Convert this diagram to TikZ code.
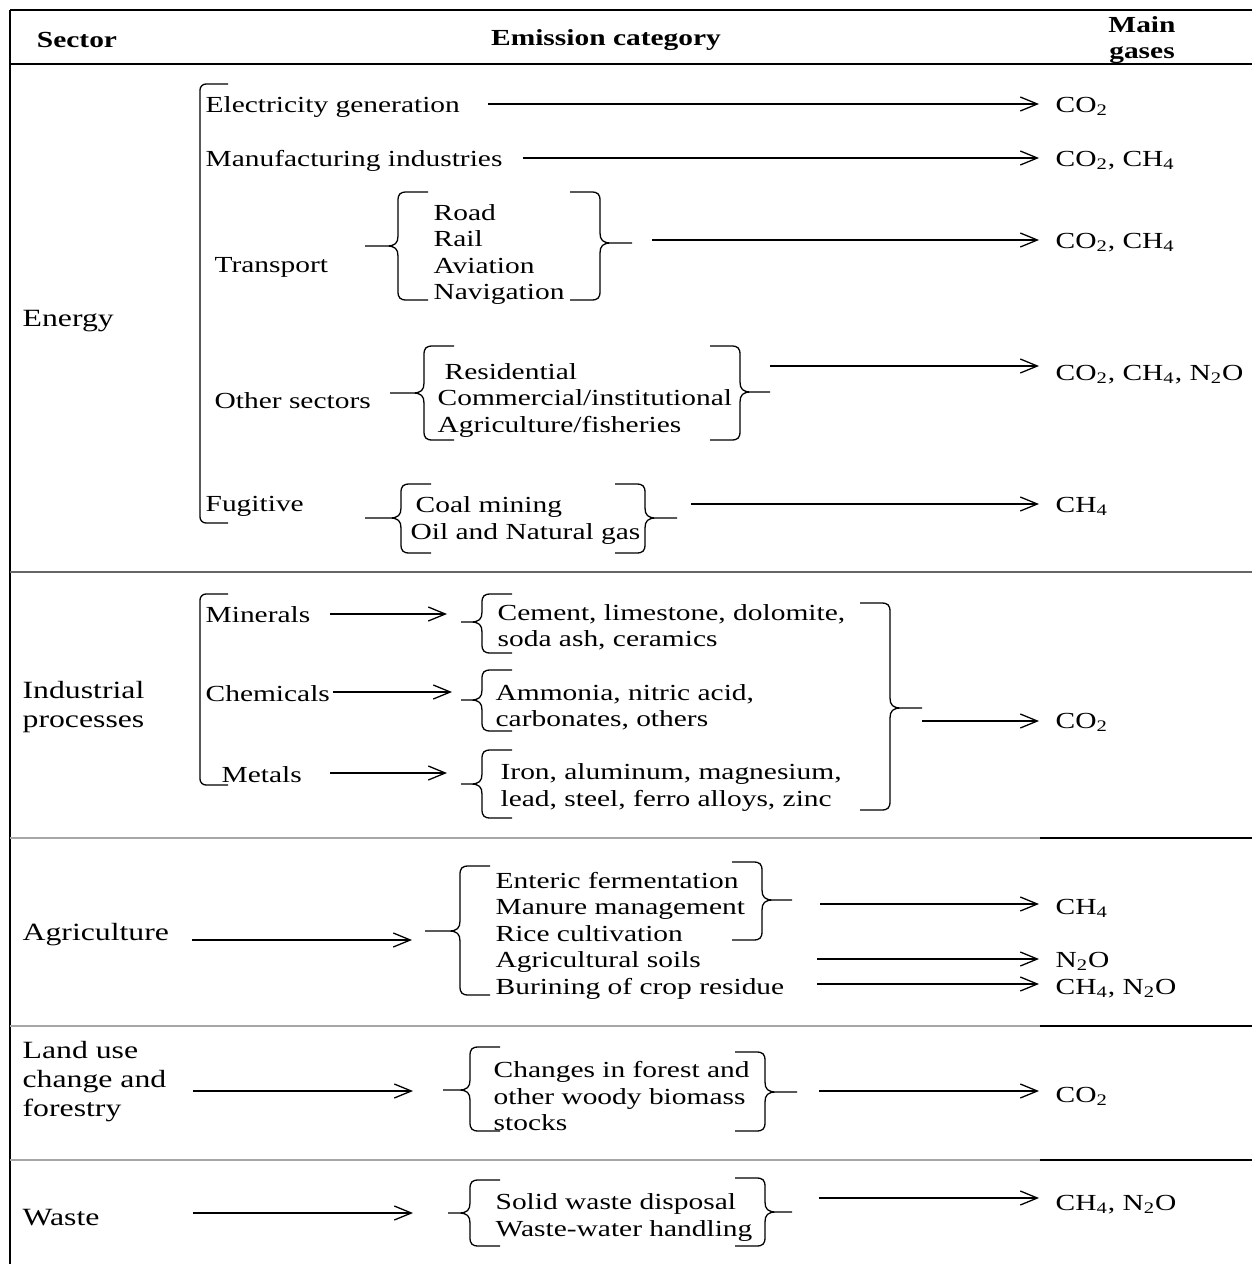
\documentclass[tikz,border=0pt]{standalone}
\usepackage{fontspec}
\setmainfont{Liberation Serif}[FakeStretch=1.28]
\usepackage{tikz}
\usetikzlibrary{arrows.meta}

\begin{document}
\begin{tikzpicture}[
		x=0.5pt, y=-0.5pt, line width=0.65pt,
		font=\fontsize{11.5}{13.25}\selectfont,
		txt/.style={anchor=west,inner sep=0pt,align=left,yshift=-1.2pt},
		sec/.style={txt,font=\fontsize{12.4}{14.5}\selectfont},
		hd/.style={inner sep=0pt,align=center,yshift=-1.2pt,font=\fontsize{11.5}{13}\selectfont\bfseries},
		gas/.style={anchor=west,inner xsep=8pt,inner ysep=0pt,yshift=-1.2pt},
		arrow/.style={-{Straight Barb[length=8.5pt,width=7pt]}},
		rule/.style={black!60},
		% curly brace: height, cusp offset, cusp length
		pics/lbrc/.style n args={3}{code={
			\draw (30,0) -- (9,0) .. controls (2,0) and (0,2) .. (0,9) -- (0,#2-10)
				.. controls (0,#2-3) and (-3,#2) .. (-11,#2) -- (-#3,#2)
				-- (-11,#2) .. controls (-3,#2) and (0,#2+3) .. (0,#2+10)
				-- (0,#1-9) .. controls (0,#1-2) and (2,#1) .. (9,#1) -- (30,#1);
		}}
	]
		\useasboundingbox (0,0) rectangle (1258,1264);

		% table frame
		\draw[line width=1.3pt] (10,10) -- (1252,10);
		\draw (10,64) -- (1252,64);
		\draw[line width=1.3pt] (10,10) -- (10,1264);
		\draw[rule] (10,572) -- (1252,572);
		\foreach \y in {838,1026,1160} {
			\draw[rule,black!35] (10,\y) -- (1040,\y);
			\draw (1040,\y) -- (1252,\y);
		}

		% header
		\node[hd] (hsec) at (77,38) {Sector};
		\node[hd] (hcat) at (606,38) {Emission category};
		\node[hd] (hgas) at (1142,38) {Main\\gases};

		% Energy
		\node[sec] (energy) at (22,319) {Energy};
		\draw[rounded corners=3pt] (228,84) -- (200,84) -- (200,523) -- (228,523);
		\node[txt] (elec) at (205,105) {Electricity generation};
		\node[txt] (manu) at (205,158) {Manufacturing industries};
		\node[txt] (trans) at (214,265) {Transport};
		\node[txt] (translist) at (433,252) {Road\\Rail\\Aviation\\Navigation};
		\pic at (398,192) {lbrc={108}{54}{33}};
		\pic[xscale=-1] at (600,192) {lbrc={108}{51}{32}};
		\node[txt] (other) at (214,398) {Other sectors};
		\node[txt] (otherlist) at (437,398) {\hspace{3.5pt}Residential\\Commercial/institutional\\Agriculture/fisheries};
		\pic at (424,346) {lbrc={94}{47}{34}};
		\pic[xscale=-1] at (740,346) {lbrc={94}{46}{30}};
		\node[txt] (fug) at (205,504) {Fugitive};
		\node[txt] (fuglist) at (410,518) {\hspace{2.5pt}Coal mining\\Oil and Natural gas};
		\pic at (401,484) {lbrc={69}{34}{36}};
		\pic[xscale=-1] at (645,484) {lbrc={69}{34}{32}};

		\node[gas] (g-elec) at (1039,104) {CO\textsubscript{2}};
		\node[gas] (g-manu) at (1039,158) {CO\textsubscript{2}, CH\textsubscript{4}};
		\node[gas] (g-trans) at (1039,240) {CO\textsubscript{2}, CH\textsubscript{4}};
		\node[gas] (g-oth) at (1039,372) {CO\textsubscript{2}, CH\textsubscript{4}, N\textsubscript{2}O};
		\node[gas] (g-fug) at (1039,504) {CH\textsubscript{4}};
		\coordinate (a-elec) at (488,104);
		\coordinate (a-manu) at (523,158);
		\coordinate (a-trans) at (652,240);
		\coordinate (a-oth) at (770,366);
		\coordinate (a-fug) at (691,504);
		\foreach \n in {elec,manu,trans,oth,fug}
			\draw[arrow] (a-\n) -- (a-\n -| g-\n.west);

		% Industrial processes
		\node[sec] (indus) at (22,705) {Industrial\\processes};
		\draw[rounded corners=3pt] (228,594) -- (200,594) -- (200,785) -- (228,785);
		\node[txt] (miner) at (205,612) {Minerals};
		\node[txt] (chem) at (205,691) {Chemicals};
		\node[txt] (metal) at (221,772) {Metals};
		\node[txt] (minerlist) at (497,625) {Cement, limestone, dolomite,\\soda ash, ceramics};
		\node[txt] (chemlist) at (495,705) {Ammonia, nitric acid,\\carbonates, others};
		\node[txt] (metallist) at (500,785) {Iron, aluminum, magnesium,\\lead, steel, ferro alloys, zinc};
		\pic at (482,594) {lbrc={59}{28}{21}};
		\pic at (482,670) {lbrc={61}{30}{21}};
		\pic at (482,750) {lbrc={68}{34}{21}};
		\pic[xscale=-1] at (890,603) {lbrc={207}{105}{32}};
		\coordinate (a-miner) at (330,614);
		\coordinate (e-miner) at (447,614);
		\coordinate (a-chem) at (333,692);
		\coordinate (e-chem) at (452,692);
		\coordinate (a-metal) at (330,773);
		\coordinate (e-metal) at (447,773);
		\foreach \n in {miner,chem,metal}
			\draw[arrow] (a-\n) -- (e-\n);
		\node[gas] (g-ind) at (1039,720) {CO\textsubscript{2}};
		\coordinate (a-ind) at (922,721);
		\draw[arrow] (a-ind) -- (a-ind -| g-ind.west);

		% Agriculture
		\node[sec] (agri) at (22,932) {Agriculture};
		\node[txt] (agrilist) at (495,933) {Enteric fermentation\\Manure management\\Rice cultivation\\Agricultural soils\\Burining of crop residue};
		\pic at (460,866) {lbrc={129}{65}{35}};
		\pic[xscale=-1] at (762,862) {lbrc={78}{38}{30}};
		\coordinate (a-agri) at (192,940);
		\coordinate (e-agri) at (412,940);
		\draw[arrow] (a-agri) -- (e-agri);
		\node[gas] (g-ch4) at (1039,906) {CH\textsubscript{4}};
		\node[gas] (g-soil) at (1039,959) {N\textsubscript{2}O};
		\node[gas] (g-burn) at (1039,986) {CH\textsubscript{4}, N\textsubscript{2}O};
		\coordinate (a-ch4) at (820,904);
		\coordinate (a-soil) at (817,959);
		\coordinate (a-burn) at (817,984);
		\foreach \n in {ch4,soil,burn}
			\draw[arrow] (a-\n) -- (a-\n -| g-\n.west);

		% Land use change and forestry
		\node[sec] (land) at (22,1079) {Land use\\change and\\forestry};
		\node[txt] (landlist) at (493,1094) {Changes in forest and\\other woody biomass\\stocks};
		\pic at (470,1047) {lbrc={84}{43}{27}};
		\pic[xscale=-1] at (765,1052) {lbrc={79}{40}{32}};
		\coordinate (a-land) at (193,1091);
		\coordinate (e-land) at (413,1091);
		\draw[arrow] (a-land) -- (e-land);
		\node[gas] (g-land) at (1039,1094) {CO\textsubscript{2}};
		\coordinate (a-lout) at (819,1091);
		\draw[arrow] (a-lout) -- (a-lout -| g-land.west);

		% Waste
		\node[sec] (waste) at (22,1215) {Waste};
		\node[txt] (wastelist) at (495,1215) {Solid waste disposal\\Waste-water handling};
		\pic at (470,1180) {lbrc={66}{33}{22}};
		\pic[xscale=-1] at (765,1178) {lbrc={68}{34}{27}};
		\coordinate (a-waste) at (193,1213);
		\coordinate (e-waste) at (413,1213);
		\draw[arrow] (a-waste) -- (e-waste);
		\node[gas] (g-waste) at (1039,1202) {CH\textsubscript{4}, N\textsubscript{2}O};
		\coordinate (a-wout) at (819,1198);
		\draw[arrow] (a-wout) -- (a-wout -| g-waste.west);
	\end{tikzpicture}
\end{document}
